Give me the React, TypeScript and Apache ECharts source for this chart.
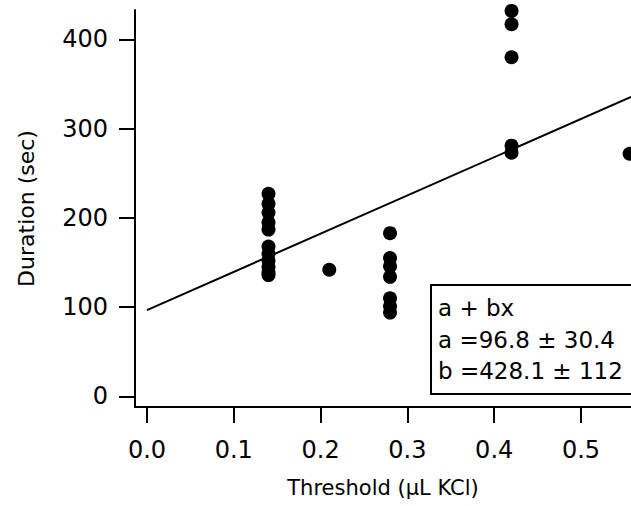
import React, { useEffect, useRef } from "react";
import * as echarts from "echarts";

// ---- data ----
const thresholds = [0.14, 0.21, 0.28, 0.42, 0.556];
const durationsAt014 = [227, 216, 206, 195, 187, 168, 160, 152, 145, 139, 136];
const durationsAt021 = [142];
const durationsAt028 = [183, 155, 146, 134, 110, 101, 94];
const durationsAt042 = [432, 417, 380, 281, 273];
const durationsAt056 = [272];
const durationGroups = [durationsAt014, durationsAt021, durationsAt028, durationsAt042, durationsAt056];

const fitA = 96.8;
const fitAErr = 30.4;
const fitB = 428.1;
const fitBErr = 112;

const xTicks = [0, 0.1, 0.2, 0.3, 0.4, 0.5];
const yTicks = [0, 100, 200, 300, 400];

const X_MIN = -0.0138;
const X_MAX = 0.5576;
const Y_MIN = -11.8;
const Y_MAX = 433;

const FONT = "DejaVu Sans";

export default function App() {
  const ref = useRef<HTMLDivElement>(null);

  useEffect(() => {
    if (!ref.current) return;
    const chart = echarts.init(ref.current, undefined, { renderer: "svg" });

    const points: number[][] = [];
    thresholds.forEach((t, i) => {
      durationGroups[i].forEach((d) => points.push([t, d]));
    });
    const fitLine = [
      [0, fitA],
      [X_MAX, fitA + fitB * X_MAX],
    ];

    chart.setOption({
      animation: false,
      backgroundColor: "#ffffff",
      grid: { left: 135, right: 0, top: 10, bottom: 99, containLabel: false },
      xAxis: {
        type: "value",
        min: X_MIN,
        max: X_MAX,
        name: "Threshold (\u03bcL KCl)",
        nameLocation: "middle",
        nameGap: 70,
        nameTextStyle: { fontFamily: FONT, fontSize: 21, color: "#000" },
        axisLine: { show: true, onZero: false, lineStyle: { color: "#000", width: 2 } },
        axisTick: {
          show: true,
          length: 16,
          customValues: xTicks,
          lineStyle: { color: "#000", width: 2 },
        },
        axisLabel: {
          customValues: xTicks,
          margin: 31,
          fontFamily: FONT,
          fontSize: 24,
          color: "#000",
          formatter: (v: number) => v.toFixed(1),
        },
        splitLine: { show: false },
      },
      yAxis: {
        type: "value",
        min: Y_MIN,
        max: Y_MAX,
        name: "Duration (sec)",
        nameLocation: "middle",
        nameGap: 98,
        nameTextStyle: { fontFamily: FONT, fontSize: 22, color: "#000" },
        axisLine: { show: true, onZero: false, lineStyle: { color: "#000", width: 2 } },
        axisTick: {
          show: true,
          length: 16,
          customValues: yTicks,
          lineStyle: { color: "#000", width: 2 },
        },
        axisLabel: {
          customValues: yTicks,
          margin: 27,
          fontFamily: FONT,
          fontSize: 24,
          color: "#000",
        },
        splitLine: { show: false },
      },
      series: [
        {
          type: "line",
          data: fitLine,
          showSymbol: false,
          symbol: "none",
          lineStyle: { color: "#000", width: 2 },
          z: 2,
        },
        {
          type: "scatter",
          data: points,
          symbol: "circle",
          symbolSize: 14,
          itemStyle: { color: "#000", opacity: 1 },
          z: 3,
        },
      ],
      graphic: [
        {
          type: "group",
          left: 430,
          top: 284,
          children: [
            {
              type: "rect",
              shape: { x: 0, y: 0, width: 210, height: 109 },
              style: { fill: "#fff", stroke: "#000", lineWidth: 2 },
            },
            {
              type: "text",
              x: 7,
              y: 23,
              style: { text: "a + bx", font: `23px ${FONT}`, fill: "#000", verticalAlign: "middle" },
            },
            {
              type: "text",
              x: 7,
              y: 55,
              style: {
                text: `a =${fitA} \u00b1 ${fitAErr}`,
                font: `23px ${FONT}`,
                fill: "#000",
                verticalAlign: "middle",
              },
            },
            {
              type: "text",
              x: 7,
              y: 86,
              style: {
                text: `b =${fitB} \u00b1 ${fitBErr}`,
                font: `23px ${FONT}`,
                fill: "#000",
                verticalAlign: "middle",
              },
            },
          ],
        },
      ],
    });

    return () => chart.dispose();
  }, []);

  return (
    <div
      ref={ref}
      style={{ position: "fixed", left: 0, top: 0, width: 631, height: 506 }}
    />
  );
}
